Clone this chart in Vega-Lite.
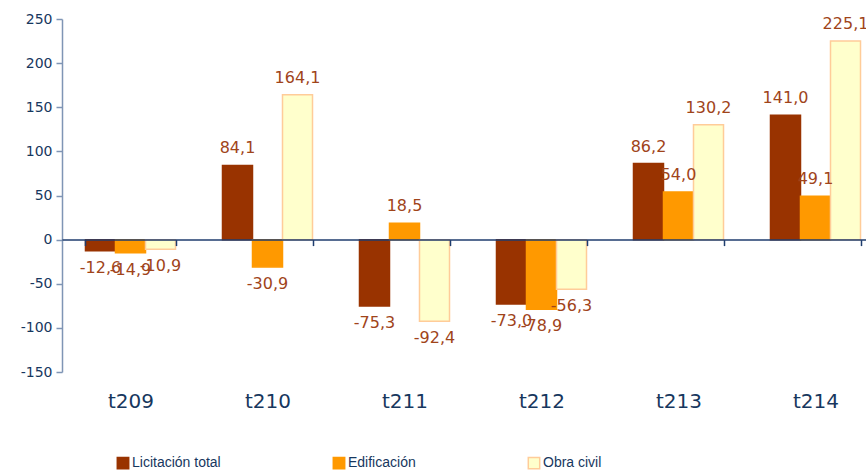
{
  "$schema": "https://vega.github.io/schema/vega-lite/v6.json",
  "width": 804,
  "height": 353,
  "autosize": {"type": "none"},
  "padding": {"left": 62, "top": 19, "right": 0, "bottom": 101},
  "background": "white",
  "config": {
    "view": {"stroke": null},
    "locale": {"number": {"decimal": ",", "thousands": ".", "grouping": [3], "currency": ["", " €"], "minus": "-"}}
  },
  "data": {"values": [
    {"periodo": "t209", "serie": "Licitación total", "valor": -12.6},
    {"periodo": "t209", "serie": "Edificación", "valor": -14.9},
    {"periodo": "t209", "serie": "Obra civil", "valor": -10.9},
    {"periodo": "t210", "serie": "Licitación total", "valor": 84.1},
    {"periodo": "t210", "serie": "Edificación", "valor": -30.9},
    {"periodo": "t210", "serie": "Obra civil", "valor": 164.1},
    {"periodo": "t211", "serie": "Licitación total", "valor": -75.3},
    {"periodo": "t211", "serie": "Edificación", "valor": 18.5},
    {"periodo": "t211", "serie": "Obra civil", "valor": -92.4},
    {"periodo": "t212", "serie": "Licitación total", "valor": -73.0},
    {"periodo": "t212", "serie": "Edificación", "valor": -78.9},
    {"periodo": "t212", "serie": "Obra civil", "valor": -56.3},
    {"periodo": "t213", "serie": "Licitación total", "valor": 86.2},
    {"periodo": "t213", "serie": "Edificación", "valor": 54.0},
    {"periodo": "t213", "serie": "Obra civil", "valor": 130.2},
    {"periodo": "t214", "serie": "Licitación total", "valor": 141.0},
    {"periodo": "t214", "serie": "Edificación", "valor": 49.1},
    {"periodo": "t214", "serie": "Obra civil", "valor": 225.1}
  ]},
  "encoding": {
    "x": {
      "field": "periodo", "type": "nominal", "sort": null,
      "scale": {"range": [0, 822], "paddingInner": 0.343, "paddingOuter": 0.1715},
      "axis": {
        "title": null, "orient": "bottom", "offset": -132.4, "zindex": 1,
        "tickBand": "extent", "domainColor": "#1f3d6e", "domainWidth": 1.5,
        "tickColor": "#1f3d6e", "tickSize": 6, "tickWidth": 1.5,
        "labelAngle": 0, "labelPadding": 146, "labelFont": "DejaVu Sans",
        "labelFontSize": 20, "labelColor": "#17375e", "labelBaseline": "top"
      }
    },
    "xOffset": {"field": "serie", "type": "nominal", "sort": ["Licitación total", "Edificación", "Obra civil"], "scale": {"paddingInner": 0, "paddingOuter": 0}},
    "y": {
      "field": "valor", "type": "quantitative",
      "scale": {"domain": [-150, 250], "nice": false, "zero": false},
      "axis": {
        "title": null, "grid": false, "values": [-150, -100, -50, 0, 50, 100, 150, 200, 250],
        "format": "d", "domainColor": "#7f95b5", "domainWidth": 1.5,
        "tickColor": "#7f95b5", "tickSize": 6, "tickWidth": 1.5,
        "labelPadding": 4, "labelFont": "DejaVu Sans", "labelFontSize": 14,
        "labelColor": "#17375e"
      }
    }
  },
  "layer": [
    {
      "mark": {"type": "bar", "strokeWidth": 1.5},
      "encoding": {
        "fill": {
          "field": "serie", "type": "nominal",
          "sort": ["Licitación total", "Edificación", "Obra civil"],
          "scale": {"domain": ["Licitación total", "Edificación", "Obra civil"], "range": ["#993300", "#ff9900", "#ffffcc"]},
          "legend": {
            "title": null, "orient": "none", "legendX": 54, "legendY": 437,
            "direction": "horizontal", "symbolType": "square", "symbolSize": 130,
            "symbolStrokeWidth": 1.5, "columnPadding": 109, "labelFont": "Liberation Sans",
            "labelFontSize": 14, "labelColor": "#17375e", "labelOffset": 2
          }
        },
        "stroke": {
          "field": "serie", "type": "nominal",
          "sort": ["Licitación total", "Edificación", "Obra civil"],
          "scale": {"domain": ["Licitación total", "Edificación", "Obra civil"], "range": ["#993300", "#ff9900", "#ffcc99"]},
          "legend": {
            "title": null, "orient": "none", "legendX": 54, "legendY": 437,
            "direction": "horizontal", "symbolType": "square", "symbolSize": 130,
            "symbolStrokeWidth": 1.5, "columnPadding": 109, "labelFont": "Liberation Sans",
            "labelFontSize": 14, "labelColor": "#17375e", "labelOffset": 2
          }
        }
      }
    },
    {
      "transform": [{"filter": "datum.valor >= 0"}],
      "mark": {"type": "text", "baseline": "bottom", "dy": -9, "font": "DejaVu Sans", "fontSize": 16, "color": "#a0441a"},
      "encoding": {"text": {"field": "valor", "type": "quantitative", "format": ".1f"}}
    },
    {
      "transform": [{"filter": "datum.valor < 0"}],
      "mark": {"type": "text", "baseline": "top", "dy": 9, "font": "DejaVu Sans", "fontSize": 16, "color": "#a0441a"},
      "encoding": {"text": {"field": "valor", "type": "quantitative", "format": ".1f"}}
    }
  ]
}
